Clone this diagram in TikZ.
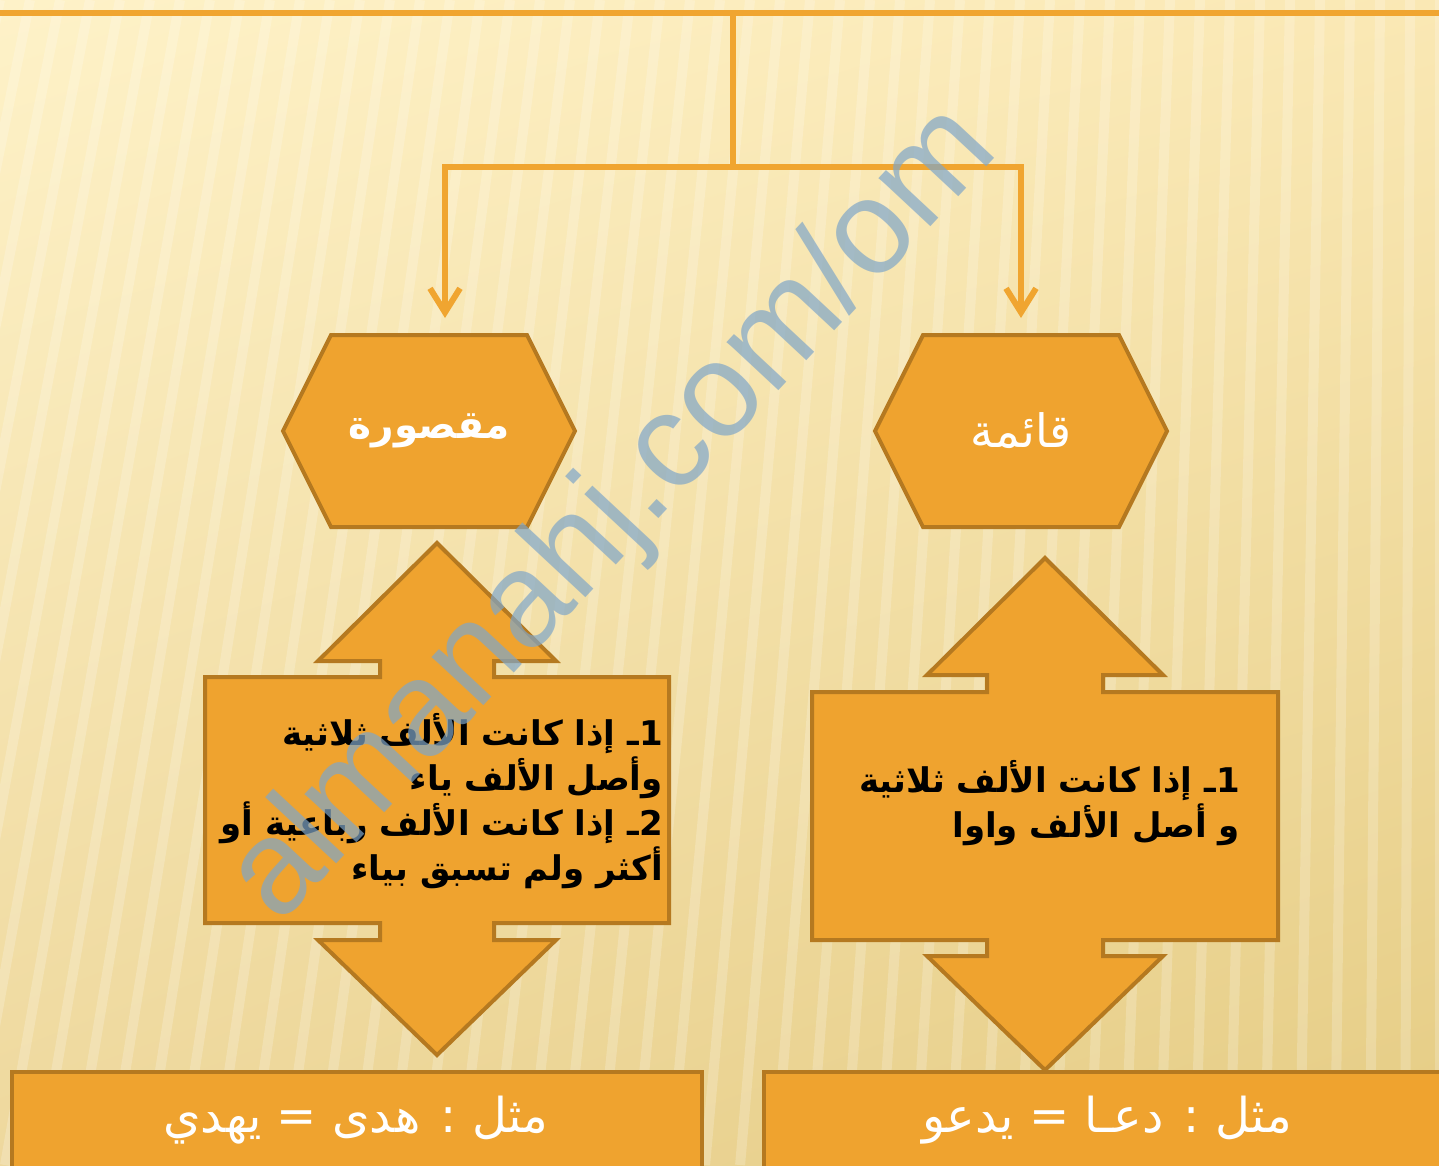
\documentclass[tikz,border=0pt]{standalone}
\usepackage{fontspec}
\usetikzlibrary{arrows.meta,calc,shadings}
\newfontfamily\arabicfont[Script=Arabic]{DejaVu Sans}
\newfontfamily\wmfont{Liberation Sans}
\TeXXeTstate=1
\definecolor{bgUL}{HTML}{FEF2C8}
\definecolor{bgUR}{HTML}{FAE8B4}
\definecolor{bgLL}{HTML}{EED89D}
\definecolor{bgLR}{HTML}{E5CC84}
\definecolor{shapefill}{HTML}{EFA32F}
\definecolor{shapeline}{HTML}{B57920}
\definecolor{connline}{HTML}{F0A530}
\definecolor{wmblue}{HTML}{7FA6C8}
\begin{document}
\begin{tikzpicture}[x=1pt,y=-1pt,
  shapestyle/.style={fill=shapefill,draw=shapeline,line width=4pt,line join=miter},
  conn/.style={draw=connline,line width=6pt},
  tip/.style={-{Straight Barb[length=24pt,width=30pt]}},
  stripe/.style={draw=white,opacity=0.2,line width=10pt},
  hextext/.style={text=white,font=\arabicfont\fontsize{46}{50}\selectfont},
  boxtext/.style={text=black,font=\arabicfont\bfseries\fontsize{34}{45}\selectfont,align=right,anchor=east,inner sep=0pt},
  exampletext/.style={text=white,font=\arabicfont\fontsize{48}{52}\selectfont}]
\useasboundingbox (0,0) rectangle (1439,1165);
% background
\shade[upper left=bgUL,upper right=bgUR,lower left=bgLL,lower right=bgLR] (0,0) rectangle (1439,1165);
\begin{scope}
\clip (0,0) rectangle (1439,1165);
\foreach \x in {-330,-300,...,1470} {
  \draw[stripe] (\x,0) -- ({\x-240*(1-\x/1439)},1165);
}
\end{scope}
% connectors
\coordinate (topL) at (0,13);
\coordinate (topR) at (1439,13);
\coordinate (topC) at (733,13);
\coordinate (split) at (733,167);
\coordinate (inL) at (445,318);
\coordinate (inR) at (1021,318);
\draw[conn] (topL) -- (topR);
\draw[conn] (topC) -- (split);
\draw[conn,tip] (split) -| (inL);
\draw[conn,tip] (split) -| (inR);
% hexagons
\draw[shapestyle,shift={(429,431)}] (-146,0) -- (-98,-96) -- (98,-96) -- (146,0) -- (98,96) -- (-98,96) -- cycle;
\draw[shapestyle,shift={(1021,431)}] (-146,0) -- (-98,-96) -- (98,-96) -- (146,0) -- (98,96) -- (-98,96) -- cycle;
\node[hextext,font=\arabicfont\bfseries\fontsize{39}{44}\selectfont] (hexL) at (429,431) {\beginR مقصورة\endR};
\node[hextext] (hexR) at (1021,431) {\beginR قائمة\endR};
% double arrows
\draw[shapestyle,shift={(437,0)}] (0,543) -- (119,661) -- (57,661) -- (57,677) -- (232,677) -- (232,923) -- (57,923) -- (57,940) -- (119,940) -- (0,1055) -- (-119,940) -- (-57,940) -- (-57,923) -- (-232,923) -- (-232,677) -- (-57,677) -- (-57,661) -- (-119,661) -- cycle;
\draw[shapestyle,shift={(1045,0)}] (0,558) -- (118,675) -- (58,675) -- (58,692) -- (233,692) -- (233,940) -- (58,940) -- (58,956) -- (118,956) -- (0,1070) -- (-118,956) -- (-58,956) -- (-58,940) -- (-233,940) -- (-233,692) -- (-58,692) -- (-58,675) -- (-118,675) -- cycle;
\node[boxtext] (ruleL) at (663,801) {\beginR 1ـ إذا كانت الألف ثلاثية\endR\\ \beginR وأصل الألف ياء\endR\\ \beginR 2ـ إذا كانت الألف رباعية أو\endR\\ \beginR أكثر ولم تسبق بياء\endR};
\node[boxtext] (ruleR) at (1240,803) {\beginR 1ـ إذا كانت الألف ثلاثية\endR\\ \beginR و أصل الألف واوا\endR};
% bottom boxes
\draw[shapestyle] (12,1072) rectangle (702,1185);
\draw[shapestyle] (764,1072) rectangle (1450,1185);
\node[exampletext] (exL) at (356,1120) {\beginR مثل : هدى = يهدي\endR};
\node[exampletext] (exR) at (1107,1120) {\beginR مثل : دعـا = يدعو\endR};
% watermark
\node[text=wmblue,opacity=0.7,rotate=47,font=\wmfont\fontsize{134}{140}\selectfont] (wm) at (615,515) {almanahj.com/om};
\end{tikzpicture}
\end{document}
